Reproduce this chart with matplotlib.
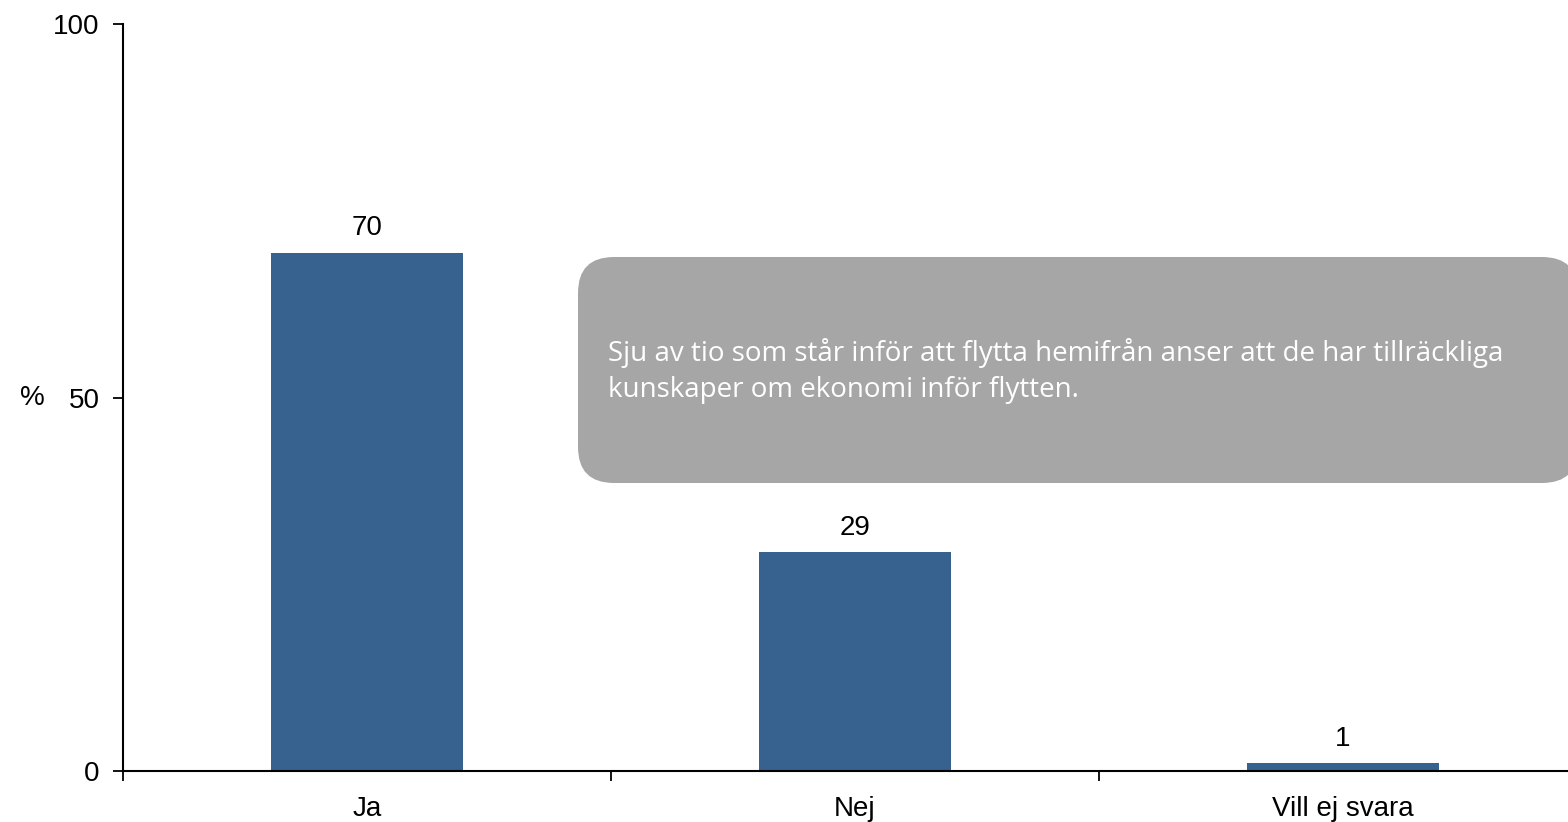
import matplotlib.pyplot as plt
from matplotlib.patches import FancyBboxPatch
import numpy as np

categories = ['Ja', 'Nej', 'Vill ej svara']
values = [69.4, 29.3, 1.1]
value_labels = ['70', '29', '1']
y_ticks = [0, 50, 100]
note = ('Sju av tio som står inför att flytta hemifrån anser att de har tillräckliga\n'
        'kunskaper om ekonomi inför flytten.')

plt.rcParams['font.family'] = ['Liberation Sans', 'DejaVu Sans']

fig = plt.figure(figsize=(15.68, 8.22), dpi=100)
# the plot area runs a little past the right edge of the picture
ax = fig.add_axes([123 / 1568, 1 - 771 / 822, 1464 / 1568, (771 - 24) / 822])

x = np.arange(len(categories))
bars = ax.bar(x, values, width=0.395, color='#37618f', zorder=2)
for b, lab in zip(bars, value_labels):
    ax.annotate(lab, (b.get_x() + b.get_width() / 2, b.get_height()), xytext=(0, 8),
                textcoords='offset points', ha='center', va='bottom', fontsize=20)

ax.set_xlim(-0.5, len(categories) - 0.5)
ax.set_ylim(0, 100)
ax.set_yticks(y_ticks)
ax.set_xticks(x)
ax.set_xticklabels(categories)
ax.set_xticks(np.arange(len(categories) + 1) - 0.5, minor=True)
ax.tick_params(axis='x', which='major', length=0, labelsize=20, pad=18)
ax.tick_params(axis='x', which='minor', length=7, width=1.3, direction='out')
ax.tick_params(axis='y', length=7, width=1.3, labelsize=20, pad=10)
for s in ['top', 'right']:
    ax.spines[s].set_visible(False)
for s in ['left', 'bottom']:
    ax.spines[s].set_linewidth(1.5)
ax.set_ylabel('%', rotation=0, fontsize=20, va='center')
ax.yaxis.set_label_coords(-91 / 1464, 0.5)

# callout box (inches)
box = FancyBboxPatch((5.78, (822 - 483) / 100), 10.0, 2.26,
                     boxstyle='round,pad=0,rounding_size=0.36', transform=fig.dpi_scale_trans,
                     facecolor='#a6a6a6', edgecolor='none', zorder=5)
fig.patches.append(box)
fig.text(608 / 1568, 1 - 371 / 822, note, color='white', fontsize=20,
         family=['Open Sans', 'DejaVu Sans'], va='center', ha='left', linespacing=1.38, zorder=6)

fig.savefig('out.png', dpi=100)
